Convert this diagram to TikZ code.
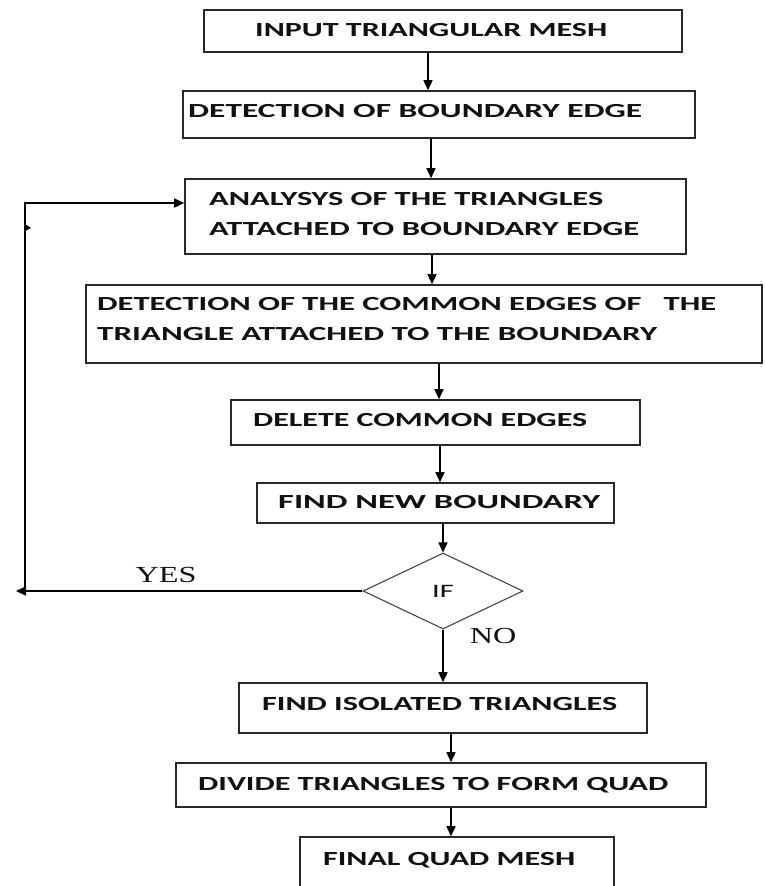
\documentclass[tikz,border=0pt]{standalone}
\usepackage{fontspec}
\usepackage{graphicx}
\usetikzlibrary{arrows.meta,shapes.geometric,fit}
\newfontfamily\boxfont[FakeStretch=1.6]{Carlito}
\newfontfamily\serifx[FakeStretch=1.4]{Liberation Serif}
\definecolor{boxline}{RGB}{40,40,40}
\definecolor{dline}{RGB}{70,70,70}
\definecolor{txt}{RGB}{17,17,17}
\newcommand\fitto[2]{\resizebox{#1}{\height}{#2}}
\begin{document}
\begin{tikzpicture}[x=1pt,y=-1pt,
  box/.style={draw=boxline,line width=1.6pt,rectangle,inner sep=0pt},
  lbl/.style={anchor=base west,inner sep=0pt,text=txt,font={\boxfont\bfseries\fontsize{20pt}{24pt}\selectfont}},
  yn/.style={inner sep=0pt,text=txt,font={\serifx\fontsize{23pt}{26pt}\selectfont}},
  conn/.style={draw=black,line width=1.6pt,-{Triangle[length=10pt,width=9pt]}}]
\useasboundingbox (0,0) rectangle (765,886);
\fill[white] (0,0) rectangle (765,886);
\clip (0,0) rectangle (765,886);

% boxes
\node[box,fit={(204,10)(682,52)}] (b1) {};
\node[box,fit={(183,91)(695,138)}] (b2) {};
\node[box,fit={(185,179)(686,254)}] (b3) {};
\node[box,fit={(86,285)(762,363)}] (b4) {};
\node[box,fit={(231,400)(640,445)}] (b5) {};
\node[box,fit={(257,483)(614,523)}] (b6) {};
\node[draw=dline,line width=1.1pt,diamond,minimum width=160pt,minimum height=76pt,inner sep=0pt,
      text=txt,font={\boxfont\fontsize{19pt}{22pt}\selectfont}] (d) at (443,591) {IF};
\node[box,fit={(239,683)(647,733)}] (b8) {};
\node[box,fit={(176,763)(706,807)}] (b9) {};
\node[box,fit={(300,837)(614,897)}] (b10) {};

% texts
\node[lbl] (t1) at (255,36) {\fitto{352pt}{INPUT TRIANGULAR MESH}};
\node[lbl] (t2) at (188,117) {\fitto{454pt}{DETECTION OF BOUNDARY EDGE}};
\node[lbl] (t3a) at (209,205) {\fitto{394pt}{ANALYSYS OF THE TRIANGLES}};
\node[lbl] (t3b) at (209,235) {\fitto{430pt}{ATTACHED TO BOUNDARY EDGE}};
\node[lbl] (t4a) at (97,310) {\fitto{619pt}{DETECTION OF THE COMMON EDGES OF~~~THE}};
\node[lbl] (t4b) at (97,340) {\fitto{560pt}{TRIANGLE ATTACHED TO THE BOUNDARY}};
\node[lbl] (t5) at (253,426) {\fitto{334pt}{DELETE COMMON EDGES}};
\node[lbl] (t6) at (278,508) {\fitto{322pt}{FIND NEW BOUNDARY}};
\node[lbl] (t8) at (262,710) {\fitto{355pt}{FIND ISOLATED TRIANGLES}};
\node[lbl] (t9) at (198,790) {\fitto{470pt}{DIVIDE TRIANGLES TO FORM QUAD}};
\node[lbl] (t10) at (323,865) {\fitto{252pt}{FINAL QUAD MESH}};

\node[yn] (yes) at (166,575) {YES};
\node[yn] (no) at (493,636) {NO};

% connector x positions
\coordinate (c1) at (428,0);
\coordinate (c2) at (431,0);
\coordinate (c3) at (432,0);
\coordinate (c4) at (439,0);
\coordinate (c5) at (440,0);
\coordinate (c8) at (451,0);

\draw[conn] (b1.south -| c1) -- (b2.north -| c1);
\draw[conn] (b2.south -| c2) -- (b3.north -| c2);
\draw[conn] (b3.south -| c3) -- (b4.north -| c3);
\draw[conn] (b4.south -| c4) -- (b5.north -| c4);
\draw[conn] (b5.south -| c5) -- (b6.north -| c5);
\draw[conn] (b6.south -| d.north) -- (d.north);
\draw[conn] (d.south) -- (b8.north -| d.south);
\draw[conn] (b8.south -| c8) -- (b9.north -| c8);
\draw[conn] (b9.south -| c8) -- (b10.north -| c8);

% loop back
\coordinate (lt) at (25,203);
\coordinate (lb) at (25,592);
\coordinate (lend) at (16,591);
\draw[conn] (d.west) -- (lend);
\draw[conn] (lb) -- (lt) -- (b3.west |- lt);
\fill[black] (25,224) -- (31,228) -- (25,231) -- cycle;
\end{tikzpicture}
\end{document}
